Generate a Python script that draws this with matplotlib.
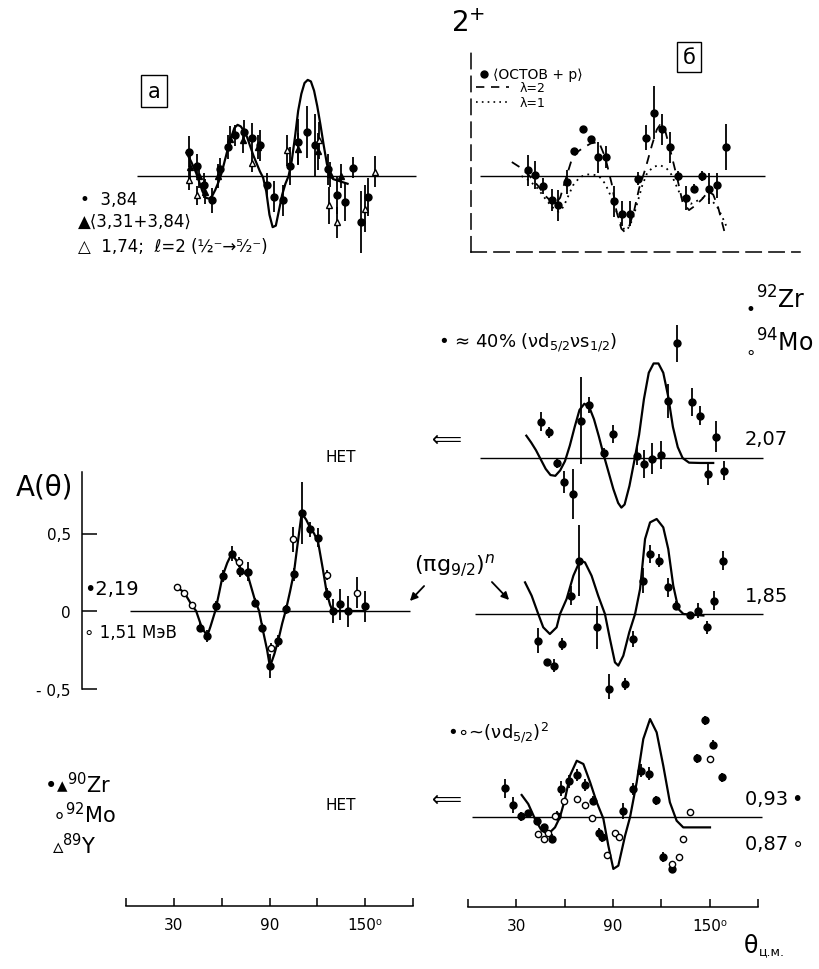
import matplotlib
matplotlib.use("Agg")
import matplotlib.pyplot as plt
from matplotlib.lines import Line2D
from matplotlib.patches import FancyArrowPatch

plt.rcParams['font.family'] = ['DejaVu Sans']
plt.rcParams['mathtext.fontset'] = 'dejavusans'

W, H = 819, 970

# ---------------- data (theta in degrees c.m., A(theta)) ----------------
# panel "а"
a_fill_theta = [39.7, 44.3, 48.9, 53.7, 59.0, 64.2, 68.4, 74.2, 78.8, 84.1, 88.3, 92.8,
                98.3, 102.9, 108.1, 113.3, 118.6, 126.9, 132.6, 137.4, 142.2, 147.2, 152.0]
a_fill_A = [0.155, 0.065, -0.06, -0.157, 0.047, 0.187, 0.262, 0.284, 0.245, 0.198, -0.06, -0.135,
            -0.157, 0.065, 0.219, 0.284, 0.198, 0.043, -0.125, -0.168, 0.054, -0.297, -0.135]
a_fill_err = [0.10, 0.08, 0.08, 0.08, 0.07, 0.08, 0.07, 0.08, 0.10, 0.10, 0.08, 0.10,
              0.10, 0.12, 0.15, 0.17, 0.20, 0.10, 0.12, 0.12, 0.07, 0.20, 0.12]
a_tri_theta = [40.0, 45.5, 49.6, 57.5, 65.2, 73.6, 83.0, 107.7, 120.5, 128.0, 135.0]
a_tri_A = [0.06, 0.0, -0.10, 0.0, 0.24, 0.23, 0.187, 0.176, 0.16, 0.01, 0.0]
a_tri_err = [0.08, 0.08, 0.08, 0.08, 0.08, 0.08, 0.08, 0.10, 0.12, 0.08, 0.08]
a_open_theta = [39.7, 44.3, 78.8, 100.8, 121.3, 127.5, 132.6, 150.0, 156.2]
a_open_A = [-0.028, -0.125, 0.086, 0.165, 0.23, -0.19, -0.297, -0.21, 0.026]
a_open_err = [0.06, 0.06, 0.06, 0.10, 0.12, 0.12, 0.10, 0.15, 0.10]
a_curve_theta = [38, 41, 44, 46, 48, 50, 52, 54, 56, 58, 60, 62, 64, 66, 68, 70, 72, 74, 76, 78,
                 80, 82, 84, 86, 88, 90, 92, 94, 96, 98, 100, 102, 104, 106, 108, 110, 112, 114,
                 116, 118, 120, 122, 124, 126, 128, 130, 133, 136, 139]
a_curve_A = [0.15, 0.09, 0.02, -0.04, -0.10, -0.14, -0.146, -0.13, -0.09, -0.04, 0.02, 0.10, 0.18,
             0.25, 0.31, 0.33, 0.32, 0.29, 0.25, 0.19, 0.13, 0.08, 0.03, -0.01, -0.10, -0.25, -0.33,
             -0.32, -0.22, -0.12, -0.05, 0.00, 0.10, 0.25, 0.42, 0.53, 0.60, 0.62, 0.61, 0.55, 0.45,
             0.33, 0.20, 0.08, 0.00, -0.02, -0.03, -0.04, -0.05]

# panel "б"
b_theta = [30.8, 35.4, 40.6, 45.7, 49.9, 55.0, 59.8, 65.0, 69.9, 74.7, 79.5, 84.6, 89.6, 94.4,
           99.5, 104.3, 109.3, 114.0, 119.2, 124.4, 129.1, 134.1, 139.2, 143.6, 148.6, 153.9]
b_A = [0.036, 0.004, -0.065, -0.157, -0.19, -0.039, 0.161, 0.305, 0.24, 0.122, 0.122, -0.164,
       -0.243, -0.243, -0.017, 0.247, 0.408, 0.301, 0.187, 0.0, -0.142, -0.082, 0.0, -0.082,
       -0.06, 0.187]
b_err = [0.10, 0.09, 0.05, 0.07, 0.10, 0.08, 0.02, 0.02, 0.02, 0.10, 0.07, 0.10, 0.08, 0.08,
         0.04, 0.08, 0.17, 0.10, 0.10, 0.03, 0.08, 0.03, 0.03, 0.10, 0.08, 0.15]
b_l2_theta = [21, 27, 32, 37, 42, 46, 48, 51, 55, 58, 61, 65, 70, 75, 79, 83, 86, 89, 91, 94, 97,
              100, 104, 108, 111, 113, 116, 120, 124, 127, 131, 135, 139, 143, 146, 149, 153]
b_l2_A = [0.09, 0.05, 0.0, -0.06, -0.13, -0.17, -0.18, -0.14, 0.0, 0.10, 0.15, 0.18, 0.21, 0.22,
          0.12, -0.05, -0.23, -0.34, -0.36, -0.32, -0.22, -0.08, 0.05, 0.20, 0.30, 0.33, 0.30,
          0.14, -0.03, -0.17, -0.22, -0.19, -0.15, -0.10, -0.12, -0.20, -0.36]
b_l1_theta = [27, 32, 37, 42, 46, 50, 53, 56, 59, 63, 67, 71, 75, 79, 82, 85, 88, 91, 93, 96, 99,
              102, 105, 109, 113, 117, 120, 123, 126, 129, 132, 136, 140, 144, 148, 151, 154]
b_l1_A = [0.0, -0.03, -0.08, -0.15, -0.20, -0.23, -0.20, -0.13, -0.06, -0.01, 0.01, 0.01, 0.0,
          -0.05, -0.12, -0.20, -0.29, -0.35, -0.34, -0.28, -0.17, -0.06, 0.02, 0.06, 0.07, 0.05,
          0.01, -0.06, -0.13, -0.17, -0.18, -0.16, -0.14, -0.15, -0.19, -0.25, -0.32]

# level 2,07
r207_theta = [38.9, 44.1, 48.8, 53.4, 58.8, 63.9, 68.9, 78.4, 83.6, 98.5, 103.0, 108.2, 113.4,
              118.1, 123.7, 132.6, 137.8, 147.7, 142.6, 152.7]
r207_A = [0.234, 0.166, -0.032, -0.153, -0.232, 0.24, 0.342, 0.032, 0.155, 0.015, -0.039, -0.006,
          0.019, 0.37, 0.74, 0.36, 0.273, 0.137, -0.103, -0.082]
r207_err = [0.06, 0.035, 0.03, 0.07, 0.16, 0.28, 0.05, 0.03, 0.06, 0.06, 0.09, 0.10, 0.09, 0.11,
            0.12, 0.09, 0.06, 0.10, 0.07, 0.06]
r207_curve_theta = [30, 33, 36, 39, 42, 45, 48, 51, 54, 57, 60, 63, 66, 69, 72, 75, 78, 81, 84,
                    87, 89, 91, 94, 97, 100, 103, 106, 109, 112, 115, 118, 121, 124, 127, 131, 138,
                    146]
r207_curve_A = [0.144, 0.10, 0.05, -0.01, -0.07, -0.11, -0.115, -0.08, -0.02, 0.08, 0.20, 0.31,
                0.35, 0.33, 0.25, 0.14, 0.02, -0.09, -0.20, -0.29, -0.32, -0.30, -0.18, -0.02,
                0.15, 0.38, 0.55, 0.61, 0.61, 0.55, 0.40, 0.20, 0.07, 0.0, -0.03, -0.032, -0.032]

# level 1,85
r185_theta = [37.4, 42.6, 47.4, 52.3, 57.7, 62.9, 73.7, 81.5, 91.2, 96.4, 102.2, 106.8, 112.6,
              117.7, 122.9, 131.6, 136.8, 141.9, 146.7, 151.9]
r185_A = [-0.172, -0.312, -0.333, -0.194, 0.118, 0.344, -0.086, -0.484, -0.452, -0.161, 0.215,
          0.387, 0.344, 0.172, 0.054, -0.006, 0.022, -0.086, 0.086, 0.344]
r185_err = [0.08, 0.02, 0.04, 0.04, 0.06, 0.23, 0.14, 0.10, 0.04, 0.05, 0.08, 0.06, 0.04, 0.06,
            0.03, 0.02, 0.05, 0.04, 0.06, 0.06]
r185_curve_theta = [29.2, 33.3, 37.4, 40.5, 44.6, 48.8, 50.9, 55.0, 59.2, 63.3, 66.4, 70.5, 74.6,
                    78.8, 81.9, 85.0, 87.1, 90.2, 93.9, 97.5, 100.6, 103.7, 106.8, 110.9, 115.0,
                    118.1, 121.2, 124.4, 127.5, 139.9]
r185_curve_A = [0.204, 0.118, 0.0, -0.086, -0.129, -0.086, 0.0, 0.097, 0.247, 0.344, 0.333,
                0.247, 0.118, 0.0, -0.161, -0.312, -0.333, -0.269, -0.118, 0.0, 0.161, 0.484,
                0.591, 0.613, 0.559, 0.419, 0.183, 0.032, 0.0, -0.01]

# level 0,93 / 0,87
r93_fill_theta = [16.8, 21.5, 26.5, 31.2, 36.4, 41.0, 45.7, 49.2, 51.3, 56.5, 61.3, 66.4, 71.2,
                  75.3, 76.8, 90.2, 96.0, 101.0, 106.1, 110.3, 114.6, 120.2, 135.7, 140.9, 146.1,
                  151.3]
r93_fill_A = [0.185, 0.077, 0.004, 0.024, -0.024, -0.066, -0.14, 0.008, 0.183, 0.23, 0.27, 0.208,
              0.105, -0.10, -0.13, 0.04, 0.18, 0.30, 0.28, 0.107, -0.258, -0.333, 0.378, 0.624,
              0.466, 0.256]
r93_fill_err = [0.06, 0.05, 0.03, 0.02, 0.02, 0.02, 0.03, 0.03, 0.05, 0.04, 0.04, 0.04, 0.03,
                0.03, 0.03, 0.05, 0.04, 0.04, 0.04, 0.03, 0.03, 0.03, 0.03, 0.03, 0.03, 0.03]
r87_open_theta = [37.4, 41.0, 43.6, 47.8, 53.4, 61.3, 66.4, 70.6, 79.9, 85.0, 87.7, 120.2, 125.0,
                  127.0, 131.6, 144.0]
r87_open_A = [-0.108, -0.14, -0.10, 0.008, 0.105, 0.118, 0.077, -0.008, -0.243, -0.10, -0.13,
              -0.30, -0.26, -0.14, 0.03, 0.374]
r93_curve_theta = [27.1, 31.2, 35.4, 39.5, 43.6, 47.8, 50.9, 54.0, 57.1, 61.3, 65.4, 69.6, 73.7,
                   77.8, 80.9, 84.0, 87.1, 91.3, 94.4, 98.5, 102.6, 106.8, 110.9, 115.0, 119.1,
                   123.3, 127.4, 135.7, 144.0]
r93_curve_A = [0.142, 0.084, -0.013, -0.088, -0.11, -0.067, 0.0, 0.116, 0.267, 0.363, 0.342,
               0.224, 0.095, -0.01, -0.185, -0.335, -0.314, -0.12, 0.0, 0.224, 0.503, 0.632,
               0.546, 0.331, 0.095, -0.024, -0.067, -0.067, -0.067]

# left middle panel (2,19 / 1,51 MeV)
L_fill_theta = [46.4, 51.0, 56.5, 60.6, 66.3, 71.5, 76.7, 80.9, 85.1, 90.3, 95.5, 100.4, 105.4,
                110.2, 115.4, 120.6, 125.9, 129.7, 134.3, 139.5, 149.9]
L_fill_A = [-0.108, -0.161, 0.032, 0.226, 0.37, 0.258, 0.254, 0.054, -0.108, -0.355, -0.194, 0.01,
            0.236, 0.634, 0.527, 0.473, 0.108, 0.0, 0.043, 0.0, 0.032]
L_fill_err = [0.03, 0.04, 0.03, 0.04, 0.05, 0.04, 0.06, 0.03, 0.03, 0.08, 0.04, 0.03, 0.04, 0.20,
              0.05, 0.06, 0.04, 0.08, 0.10, 0.10, 0.10]
L_open_theta = [31.8, 36.6, 41.2, 71.1, 91.0, 105.0, 125.9, 145.1]
L_open_A = [0.157, 0.118, 0.039, 0.316, -0.237, 0.462, 0.232, 0.118]
L_open_err = [0.02, 0.02, 0.02, 0.03, 0.03, 0.08, 0.03, 0.10]
L_curve_theta = [31.8, 36.6, 41.2, 44.0, 47.0, 49.0, 51.0, 53.0, 56.0, 58.5, 60.6, 63.5, 66.3,
                 69.0, 72.0, 76.7, 80.9, 83.5, 86.0, 88.5, 90.3, 93.0, 95.5, 98.0, 100.4, 103.0,
                 105.4, 107.5, 110.2, 113.0, 115.4, 118.0, 120.6, 123.5, 125.9, 128.0, 129.7,
                 135.0, 140.0, 145.0, 150.0]
L_curve_A = [0.157, 0.118, 0.039, 0.0, -0.09, -0.13, -0.16, -0.10, 0.0, 0.12, 0.226, 0.31, 0.37,
             0.33, 0.27, 0.22, 0.07, 0.0, -0.13, -0.25, -0.36, -0.28, -0.19, -0.08, 0.01, 0.13,
             0.25, 0.42, 0.63, 0.59, 0.54, 0.50, 0.44, 0.27, 0.12, 0.04, 0.0, 0.0, 0.0, 0.0, 0.0]

theta_ticks = [0, 30, 60, 90, 120, 150, 180]
theta_ticklabels = ["", "30", "", "90", "", "150\u2070", ""]
A_ticks = [-0.5, 0, 0.5]
A_ticklabels = ["- 0,5", "0", "0,5"]

# ---------------- figure ----------------
fig = plt.figure(figsize=(W / 100, H / 100), dpi=100)


def make_ax(left, right, top, bottom, x0px, pxdeg, y0px, pxunit=155.0):
    ax = fig.add_axes([left / W, 1 - bottom / H, (right - left) / W, (bottom - top) / H])
    ax.set_xlim((left - x0px) / pxdeg, (right - x0px) / pxdeg)
    ax.set_ylim((y0px - bottom) / pxunit, (y0px - top) / pxunit)
    ax.patch.set_alpha(0)
    for s in ax.spines.values():
        s.set_visible(False)
    ax.set_xticks([])
    ax.set_yticks([])
    return ax


def T(x, y, s, size, ha='left', va='center', **kw):
    return fig.text(x / W, 1 - y / H, s, fontsize=size, ha=ha, va=va, **kw)


def pts(ax, th, A, err, marker='o', face='k', ms=5.0):
    ax.errorbar(th, A, yerr=err, fmt=marker, ms=ms, mfc=face, mec='k', mew=1.0,
                ecolor='k', elinewidth=1.3, capsize=0, zorder=3)


def curve(ax, th, A, **kw):
    kw.setdefault('lw', 1.6)
    ax.plot(th, A, color='k', zorder=2, **kw)


LX0, LPX = 126.0, 1.594     # left column theta mapping (pixels)
RX0, RPX = 478.0, 1.611     # right column theta mapping

# panel а
axa = make_ax(126, 430, 60, 280, LX0, LPX, 177)
axa.hlines(0, 6.7, 182, color='k', lw=1.0)
curve(axa, a_curve_theta, a_curve_A)
pts(axa, a_fill_theta, a_fill_A, a_fill_err, 'o')
pts(axa, a_tri_theta, a_tri_A, a_tri_err, '^')
pts(axa, a_open_theta, a_open_A, a_open_err, '^', face='white', ms=5.0)

# panel б (dashed frame)
axb = make_ax(471, 800, 47, 253, RX0, RPX, 177)
for side in ('left', 'bottom'):
    axb.spines[side].set_visible(True)
    axb.spines[side].set_linestyle((0, (10, 5)))
    axb.spines[side].set_linewidth(1.1)
axb.hlines(0, 1.2, 178, color='k', lw=1.0)
curve(axb, b_l2_theta, b_l2_A, ls=(0, (5, 4)), lw=1.3)
curve(axb, b_l1_theta, b_l1_A, ls=(0, (1, 2.5)), lw=1.3)
pts(axb, b_theta, b_A, b_err, 'o')
leg1 = axb.legend([Line2D([], [], marker='o', ls='none', color='k', ms=5)],
                  ["\u27e8ОСТОВ + р\u27e9"], loc='upper left', bbox_to_anchor=(0.005, 0.93),
                  frameon=False, fontsize=10, handlelength=0.6, borderpad=0,
                  handletextpad=0.4)
axb.add_artist(leg1)
axb.legend([Line2D([], [], color='k', ls=(0, (5, 4)), lw=1.2),
            Line2D([], [], color='k', ls=(0, (1, 2.5)), lw=1.2)],
           ["λ=2", "λ=1"], loc='upper left', bbox_to_anchor=(-0.003, 0.86),
           frameon=False, fontsize=9, handlelength=2.6, labelspacing=0.15, borderpad=0,
           handletextpad=0.9)

# level 2,07
ax207 = make_ax(470, 780, 300, 540, RX0, RPX, 459)
ax207.hlines(0, 1.2, 177, color='k', lw=1.0)
curve(ax207, r207_curve_theta, r207_curve_A)
pts(ax207, r207_theta, r207_A, r207_err)

# level 1,85
ax185 = make_ax(470, 780, 500, 700, RX0, RPX, 615)
ax185.hlines(0, -2, 177, color='k', lw=1.0)
curve(ax185, r185_curve_theta, r185_curve_A)
pts(ax185, r185_theta, r185_A, r185_err)

# level 0,93 / 0,87
ax93 = make_ax(470, 780, 690, 890, RX0, RPX, 818)
ax93.hlines(0, -4, 176, color='k', lw=1.0)
curve(ax93, r93_curve_theta, r93_curve_A)
pts(ax93, r93_fill_theta, r93_fill_A, r93_fill_err)
ax93.plot(r87_open_theta, r87_open_A, 'o', ms=4.5, mfc='white', mec='k', mew=1.0, zorder=4)

# left middle panel with A(θ) axis
axL = make_ax(82, 420, 473, 689.5, LX0, LPX, 612)
axL.spines['left'].set_visible(True)
axL.spines['left'].set_linewidth(1.1)
axL.spines['left'].set_bounds(-0.5, 0.897)
axL.set_yticks(A_ticks)
axL.set_yticklabels(A_ticklabels)
axL.tick_params(axis='y', direction='in', length=11, width=1.1, labelsize=11, pad=8)
axL.hlines(0, 2.5, 178, color='k', lw=1.0)
curve(axL, L_curve_theta, L_curve_A)
pts(axL, L_fill_theta, L_fill_A, L_fill_err, 'o')
pts(axL, L_open_theta, L_open_A, L_open_err, 'o', face='white', ms=4.5)

# bottom theta axes
for left, right, ypx in ((126, 413, 907), (468, 758, 908)):
    axt = fig.add_axes([left / W, 1 - ypx / H, (right - left) / W, 0.02])
    axt.patch.set_alpha(0)
    for s in ('top', 'left', 'right'):
        axt.spines[s].set_visible(False)
    axt.spines['bottom'].set_linewidth(1.1)
    axt.set_xlim(0, 180)
    axt.set_yticks([])
    axt.set_xticks(theta_ticks)
    axt.set_xticklabels(theta_ticklabels)
    axt.tick_params(axis='x', direction='in', length=6, width=1.1, labelsize=11, pad=8)

# ---------------- texts ----------------
T(468, 24, "2$^{+}$", 20, ha='center')
T(689, 58, "б", 15, ha='center', bbox=dict(boxstyle='square,pad=0.25', fc='none', ec='k', lw=1))
T(154, 92, "а", 15, ha='center', bbox=dict(boxstyle='square,pad=0.3', fc='none', ec='k', lw=1))
T(80, 200, "\u2022  3,84", 12)
T(78, 222, "\u25b2\u27e83,31+3,84\u27e9", 12)
T(78, 247, "\u25b3  1,74;  \u2113=2 (\u00bd\u207b\u2192\u2075\u2044\u2082\u207b)", 12)

T(745, 310, "\u2022", 12)
T(756, 300, "$^{92}$Zr", 17)
T(745, 353, "\u2218", 12)
T(756, 343, "$^{94}$Mo", 17)
T(438, 343, "\u2022 \u2248 40% (\u03bdd$_{5/2}$\u03bds$_{1/2}$)", 13)
T(447, 440, "\u27f8", 15, ha='center')
T(447, 800, "\u27f8", 15, ha='center')
T(745, 440, "2,07", 14)
T(745, 597, "1,85", 14)
T(745, 800, "0,93\u2009\u2022", 14)
T(745, 845, "0,87\u2009\u2218", 14)
T(341, 458, "НЕТ", 11, ha='center')
T(341, 806, "НЕТ", 11, ha='center')
T(16, 488, "A(θ)", 20)
T(84, 590, "\u20222,19", 14)
T(84, 633, "\u2218 1,51 МэВ", 12)
T(455, 566, "(\u03c0g$_{9/2}$)$^{n}$", 16, ha='center')
T(447, 733, "\u2022\u2218~(\u03bdd$_{5/2}$)$^{2}$", 13)
T(44, 785, "\u2022\u25b4$^{90}$Zr", 15)
T(52, 815, "\u2218$^{92}$Mo", 15)
T(52, 846, "\u25b5$^{89}$Y", 15)
T(744, 946, "θ", 17)
T(759, 952, "ц.м.", 9)

for (xa, ya, xb, yb) in ((426, 585, 408, 604), (490, 581, 511, 603)):
    fig.add_artist(FancyArrowPatch(((xa) / W, 1 - ya / H), (xb / W, 1 - yb / H),
                                   transform=fig.transFigure, arrowstyle='-|>',
                                   mutation_scale=11, lw=1.3, color='k'))

fig.savefig("out.png", dpi=100)
